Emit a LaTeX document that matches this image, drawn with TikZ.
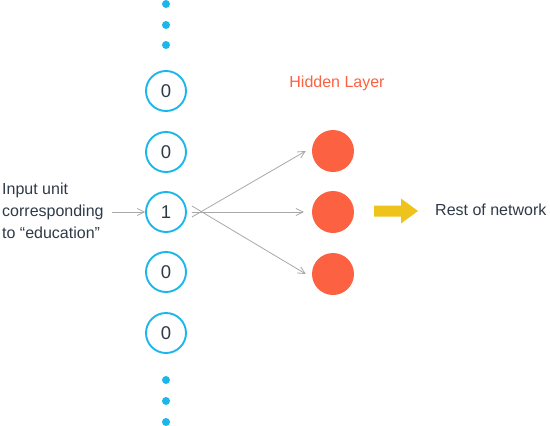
\documentclass[tikz,border=0pt]{standalone}
\usepackage{fontspec}
\setmainfont{Liberation Sans}
\usetikzlibrary{arrows.meta}
\definecolor{cblue}{HTML}{1CB6EA}
\definecolor{horange}{HTML}{FC6141}
\definecolor{txt}{HTML}{2F3A48}
\definecolor{agray}{HTML}{A8A8A8}
\definecolor{ayellow}{HTML}{EEC31C}
\begin{document}
\begin{tikzpicture}[x=1pt,y=-1pt,
  inunit/.style={circle,draw=cblue,line width=1.9pt,minimum size=40pt,inner sep=0pt,text=txt,font=\fontsize{18.5}{18.5}\selectfont},
  hunit/.style={circle,fill=horange,minimum size=42pt,inner sep=0pt},
  vdot/.style={circle,fill=cblue,minimum size=8pt,inner sep=0pt},
  conn/.style={draw=agray,line width=0.8pt,-{Straight Barb[length=7pt,width=7pt]}},
  lbl/.style={text=txt,font=\fontsize{16}{22}\selectfont}]
\useasboundingbox (0,0) rectangle (550,426);
% dots
\node[vdot] (d1) at (166,4) {};
\node[vdot] (d2) at (166,25) {};
\node[vdot] (d3) at (166,45) {};
\node[vdot] (d4) at (166,380) {};
\node[vdot] (d5) at (166,401) {};
\node[vdot] (d6) at (166,422) {};
% input units
\node[inunit] (i1) at (166,91) {0};
\node[inunit] (i2) at (166,152) {0};
\node[inunit] (i3) at (166,212) {1};
\node[inunit] (i4) at (166,272) {0};
\node[inunit] (i5) at (166,333) {0};
% hidden units
\node[hunit] (h1) at (333,151) {};
\node[hunit] (h2) at (333,212) {};
\node[hunit] (h3) at (333,274) {};
% labels
\node[lbl,anchor=west,align=left,inner sep=0pt] (inlbl) at (2,211) {Input unit\\corresponding\\to “education”};
\node[lbl,text=horange,anchor=center] (hl) at (337,83) {Hidden Layer};
\node[lbl,anchor=west,inner sep=0pt] (rest) at (435,210) {Rest of network};
% connectors
\coordinate (ina) at (112,212);
\draw[conn] (ina) -- (i3.west);
\draw[conn] ([xshift=5pt,yshift=-5pt]i3.east) -- ([xshift=-6pt]h1.west);
\draw[conn] ([xshift=5pt]i3.east) -- ([xshift=-8pt]h2.west);
\draw[conn] ([xshift=5pt,yshift=6pt]i3.east) -- ([xshift=-6pt]h3.west);
% yellow arrow
\fill[ayellow] (374,205.5) -- (401,205.5) -- (401,198.5) -- (418,211) -- (401,223.5) -- (401,216.5) -- (374,216.5) -- cycle;
\end{tikzpicture}
\end{document}
